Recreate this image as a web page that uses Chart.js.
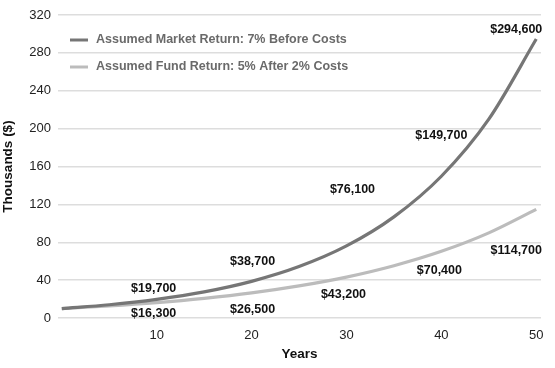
<!DOCTYPE html>
<html>
<head>
<meta charset="utf-8">
<script src="https://cdn.jsdelivr.net/npm/chart.js@4"></script>
<style>
  html, body { margin: 0; padding: 0; background: #fff; }
  #wrap { width: 555px; height: 368px; position: relative; }
</style>
</head>
<body>
<div id="wrap"><canvas id="c" width="555" height="368"></canvas></div>
<script>
// ---- data ----
const years = [0, 5, 10, 15, 20, 25, 30, 35, 40, 45, 50];
const marketValues = [10, 14.0, 19.7, 27.6, 38.7, 54.3, 76.1, 106.8, 149.7, 210.0, 294.6];
const fundValues = [10, 12.8, 16.3, 20.8, 26.5, 33.9, 43.2, 55.2, 70.4, 89.9, 114.7];
const seriesLabels = ['Assumed Market Return: 7% Before Costs', 'Assumed Fund Return: 5% After 2% Costs'];
const xTicks = [10, 20, 30, 40, 50];
const yTicks = [0, 40, 80, 120, 160, 200, 240, 280, 320];
const labeledYears = [10, 20, 30, 40, 50];

// label offsets (pixels) relative to points, per series
const labelOffsets = [
  [[-3, -11], [1, -20], [6, -56], [0, -41], [-20, -10]],
  [[-3, 11], [1, 17], [-3, 17], [-2, 19], [-20, 41]]
];

const colors = ['#767676', '#bcbcbc'];

const toXY = (vals) => years.map((y, i) => ({ x: y, y: vals[i] }));

const labelPlugin = {
  id: 'labels',
  afterDatasetsDraw(chart) {
    const ctx = chart.ctx;
    const xs = chart.scales.x, ys = chart.scales.y;
    ctx.save();
    // data labels
    ctx.font = 'bold 12.5px "Liberation Sans", Arial, sans-serif';
    ctx.fillStyle = '#111';
    ctx.textAlign = 'center';
    ctx.textBaseline = 'middle';
    chart.data.datasets.forEach((ds, di) => {
      labeledYears.forEach((yr, li) => {
        const pt = ds.data.find(p => p.x === yr);
        if (!pt) return;
        const px = xs.getPixelForValue(pt.x) + labelOffsets[di][li][0];
        const py = ys.getPixelForValue(pt.y) + labelOffsets[di][li][1];
        const txt = '$' + Math.round(pt.y * 1000).toLocaleString('en-US');
        ctx.fillText(txt, px, py);
      });
    });
    // legend
    const area = chart.chartArea;
    ctx.font = 'bold 12.5px "Liberation Sans", Arial, sans-serif';
    ctx.textAlign = 'left';
    chart.data.datasets.forEach((ds, di) => {
      const y = area.top + 25 + di * 27;
      ctx.strokeStyle = ds.borderColor;
      ctx.lineWidth = 3;
      ctx.beginPath();
      ctx.moveTo(area.left + 12, y);
      ctx.lineTo(area.left + 30, y);
      ctx.stroke();
      ctx.fillStyle = '#6a6a6a';
      ctx.fillText(ds.label, area.left + 38, y);
    });
    ctx.restore();
  }
};

new Chart(document.getElementById('c'), {
  type: 'line',
  data: {
    datasets: [
      { label: seriesLabels[0], data: toXY(marketValues), borderColor: colors[0], borderWidth: 3.2, pointRadius: 0, cubicInterpolationMode: 'monotone', fill: false },
      { label: seriesLabels[1], data: toXY(fundValues), borderColor: colors[1], borderWidth: 3.2, pointRadius: 0, cubicInterpolationMode: 'monotone', fill: false }
    ]
  },
  options: {
    responsive: false,
    animation: false,
    layout: { padding: { top: 15, right: 14, bottom: 6, left: 0 } },
    plugins: { legend: { display: false }, tooltip: { enabled: false } },
    scales: {
      x: {
        type: 'linear',
        min: -0.4,
        max: 50.5,
        afterBuildTicks: (s) => { s.ticks = xTicks.map(v => ({ value: v })); },
        afterFit: (s) => { s.height = 44; },
        grid: { display: false, drawTicks: false },
        border: { display: false },
        ticks: { padding: 10, color: '#222', font: { size: 13, family: '"Liberation Sans", Arial, sans-serif' } },
        title: { display: true, text: 'Years', color: '#111', padding: 0, font: { size: 13.5, weight: 'bold', family: '"Liberation Sans", Arial, sans-serif' } }
      },
      y: {
        min: 0,
        max: 320,
        afterBuildTicks: (s) => { s.ticks = yTicks.map(v => ({ value: v })); },
        afterFit: (s) => { s.width = 58; },
        grid: { color: '#dddddd', lineWidth: 1.5, drawTicks: false },
        border: { display: false },
        ticks: { padding: 7, color: '#222', font: { size: 13, family: '"Liberation Sans", Arial, sans-serif' } },
        title: { display: true, text: 'Thousands ($)', color: '#111', padding: 0, font: { size: 13.5, weight: 'bold', family: '"Liberation Sans", Arial, sans-serif' } }
      }
    }
  },
  plugins: [labelPlugin]
});
</script>
</body>
</html>
